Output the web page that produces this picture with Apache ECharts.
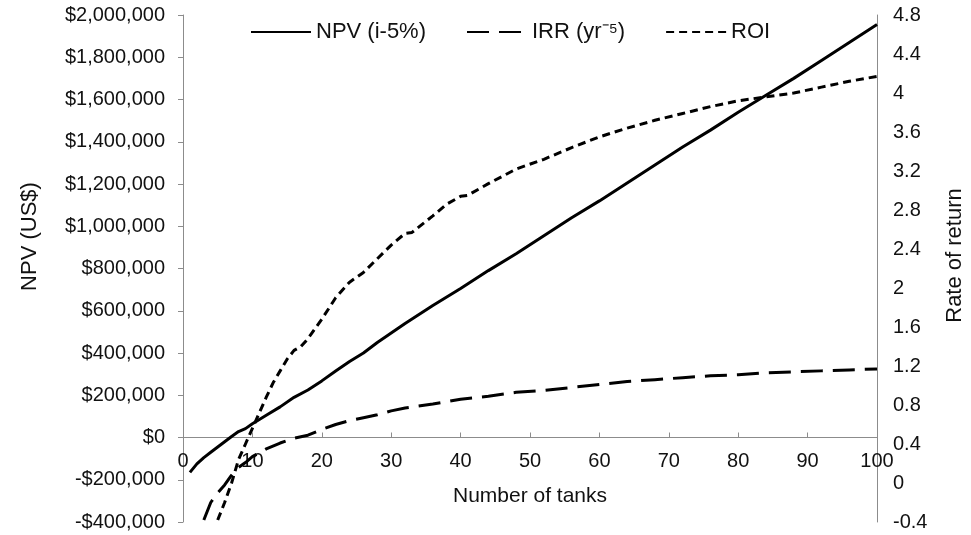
<!DOCTYPE html>
<html>
<head>
<meta charset="utf-8">
<script src="https://cdn.jsdelivr.net/npm/echarts@6/dist/echarts.min.js"></script>
<style>
  html, body { margin: 0; padding: 0; background: #fff; }
  #chart { width: 971px; height: 535px; }
</style>
</head>
<body>
<div id="chart"></div>
<script>
// number of tanks -> value
let npvTanks = [1, 2, 3, 4, 5, 6, 7, 8, 9, 10, 12, 14, 16, 18, 20, 22, 24, 26, 28, 30, 32, 36, 40, 44, 48, 52, 56, 60, 64, 68, 72, 76, 80, 84, 88, 92, 96, 100];
let npvValues = [-165000, -125000, -95000, -70000, -45000, -20000, 5000, 28000, 42000, 65000, 105000, 145000, 190000, 225000, 268000, 315000, 360000, 400000, 450000, 495000, 540000, 625000, 705000, 790000, 870000, 955000, 1040000, 1120000, 1205000, 1290000, 1375000, 1455000, 1540000, 1620000, 1700000, 1785000, 1870000, 1955000];

let irrTanks = [3, 4, 5, 6, 7, 8, 9, 10, 12, 14, 16, 18, 20, 22, 24, 26, 28, 30, 32, 36, 40, 44, 48, 52, 56, 60, 64, 68, 72, 76, 80, 84, 88, 92, 96, 100];
let irrValues = [-0.38, -0.2, -0.1, -0.02, 0.08, 0.16, 0.21, 0.27, 0.35, 0.41, 0.46, 0.49, 0.55, 0.6, 0.64, 0.67, 0.7, 0.74, 0.77, 0.81, 0.86, 0.89, 0.93, 0.95, 0.98, 1.01, 1.04, 1.06, 1.08, 1.1, 1.11, 1.13, 1.14, 1.15, 1.16, 1.17];

let roiTanks = [5, 6, 7, 8, 9, 10, 11, 12, 13, 14, 15, 16, 17, 18, 20, 22, 24, 26, 28, 30, 32, 33, 36, 38, 40, 41, 44, 48, 52, 56, 60, 64, 68, 72, 76, 80, 84, 88, 92, 96, 100];
let roiValues = [-0.38, -0.2, 0.0, 0.24, 0.4, 0.56, 0.72, 0.88, 1.03, 1.15, 1.27, 1.36, 1.4, 1.48, 1.68, 1.9, 2.06, 2.16, 2.3, 2.44, 2.56, 2.57, 2.74, 2.86, 2.94, 2.95, 3.07, 3.22, 3.32, 3.44, 3.55, 3.64, 3.72, 3.79, 3.86, 3.92, 3.96, 4.0, 4.06, 4.12, 4.17];

let seriesNames = ['NPV (i-5%)', 'IRR (yr\u207B\u2075)', 'ROI'];

function pairs(xs, ys) {
    return xs.map(function (x, i) { return [x, ys[i]]; });
}

let font = 'Liberation Sans, Arial, sans-serif';
let txt = '#111';
let axisGrey = '#8c8c8c';

// the x axis sits on the $0 line of the left axis: 2.0M of 2.4M down from the top
let gridTop = 15, gridBottom = 13, chartH = 535;
let zeroShift = (chartH - gridTop - gridBottom) * (400000 / 2400000);

let option = {
    animation: false,
    textStyle: { fontFamily: font },
    grid: { left: 183, right: 94, top: gridTop, bottom: gridBottom, outerBoundsMode: 'none', containLabel: false },
    legend: {
        left: 245,
        top: 16,
        itemWidth: 60,
        itemHeight: 14,
        itemGap: 40,
        itemStyle: { opacity: 0 },
        textStyle: { fontSize: 22, color: txt, fontFamily: font },
        data: seriesNames
    },
    xAxis: {
        type: 'value',
        min: 0,
        max: 100,
        interval: 10,
        offset: -zeroShift,
        name: 'Number of tanks',
        nameLocation: 'middle',
        nameGap: 48,
        nameTextStyle: { fontSize: 21, color: txt },
        axisLine: { onZero: false, lineStyle: { color: axisGrey, width: 1 } },
        axisTick: { show: true, inside: true, length: 5, lineStyle: { color: axisGrey } },
        axisLabel: { fontSize: 20, color: txt, margin: 14 },
        splitLine: { show: false }
    },
    yAxis: [
        {
            type: 'value',
            min: -400000,
            max: 2000000,
            interval: 200000,
            name: 'NPV (US$)',
            nameLocation: 'middle',
            nameGap: 142,
            nameRotate: 90,
            nameTextStyle: { fontSize: 22, color: txt, padding: [0, 0, 0, 64] },
            axisLine: { show: true, onZero: false, lineStyle: { color: axisGrey, width: 1 } },
            axisTick: { show: true, length: 5, lineStyle: { color: axisGrey } },
            axisLabel: {
                fontSize: 20,
                color: txt,
                margin: 18,
                formatter: function (v) {
                    let s = '$' + Math.abs(v).toLocaleString('en-US');
                    return v < 0 ? '-' + s : s;
                }
            },
            splitLine: { show: false }
        },
        {
            type: 'value',
            min: -0.4,
            max: 4.8,
            interval: 0.4,
            position: 'right',
            name: 'Rate of return',
            nameLocation: 'middle',
            nameGap: 67,
            nameRotate: 90,
            nameTextStyle: { fontSize: 22, color: txt, padding: [0, 0, 0, 26] },
            axisLine: { show: true, onZero: false, lineStyle: { color: axisGrey, width: 1 } },
            axisTick: { show: false },
            axisLabel: {
                fontSize: 20,
                color: txt,
                margin: 16,
                formatter: function (v) { return String(Number(v.toFixed(1))); }
            },
            splitLine: { show: false }
        }
    ],
    series: [
        {
            name: seriesNames[0],
            type: 'line',
            yAxisIndex: 0,
            showSymbol: false,
            symbol: 'none',
            color: '#000',
            lineStyle: { color: '#000', width: 3, type: 'solid' },
            data: pairs(npvTanks, npvValues)
        },
        {
            name: seriesNames[1],
            type: 'line',
            yAxisIndex: 1,
            showSymbol: false,
            symbol: 'none',
            color: '#000',
            lineStyle: { color: '#000', width: 3, type: [22, 10] },
            data: pairs(irrTanks, irrValues)
        },
        {
            name: seriesNames[2],
            type: 'line',
            yAxisIndex: 1,
            showSymbol: false,
            symbol: 'none',
            color: '#000',
            lineStyle: { color: '#000', width: 3, type: [8, 5] },
            data: pairs(roiTanks, roiValues)
        }
    ]
};

echarts.init(document.getElementById('chart')).setOption(option);
</script>
</body>
</html>
